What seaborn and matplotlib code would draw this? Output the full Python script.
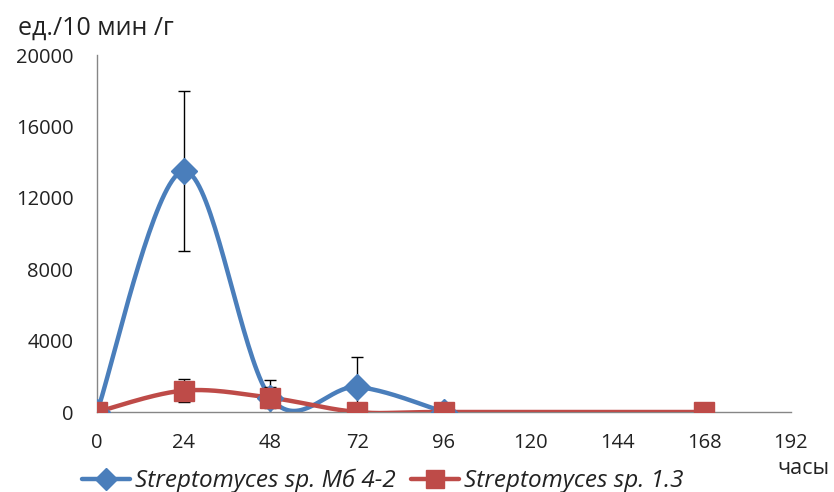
import numpy as np
import pandas as pd
import seaborn as sns
import matplotlib
matplotlib.use("Agg")
from matplotlib import pyplot as plt

hours = [0, 24, 48, 72, 96, 168]
blue_x = [0, 24, 48, 72, 96]
blue_y = [0, 13500, 800, 1400, 0]
blue_err = [0, 4500, 1000, 1700, 0]
red_x = [0, 24, 48, 72, 96, 168]
red_y = [0, 1200, 800, 0, 0, 0]
red_err = [0, 650, 600, 0, 0, 0]
xticks = [0, 24, 48, 72, 96, 120, 144, 168, 192]
yticks = [0, 4000, 8000, 12000, 16000, 20000]
blue_name = "Streptomyces sp. Мб 4-2"
red_name = "Streptomyces sp. 1.3"


def smooth(x, y, n=40):
    # catmull-rom style smoothing like the spreadsheet "smoothed line"
    x = np.asarray(x, float)
    y = np.asarray(y, float)
    px = np.concatenate([[x[0]], x, [x[-1]]])
    py = np.concatenate([[y[0]], y, [y[-1]]])
    xs, ys = [], []
    for i in range(1, len(px) - 2):
        p0, p1, p2, p3 = (np.array([px[j], py[j]]) for j in range(i - 1, i + 3))
        c1 = p1 + (p2 - p0) / 6
        c2 = p2 - (p3 - p1) / 6
        t = np.linspace(0, 1, n)[:, None]
        b = (1 - t) ** 3 * p1 + 3 * (1 - t) ** 2 * t * c1 + 3 * (1 - t) * t ** 2 * c2 + t ** 3 * p2
        xs.extend(b[:, 0])
        ys.extend(b[:, 1])
    return pd.DataFrame({"x": xs, "y": ys})


sns.set_style("white")
plt.rcParams["font.family"] = ["Open Sans", "DejaVu Sans"]
plt.rcParams["text.color"] = "#222222"

fig = plt.figure(figsize=(8.34, 4.92), dpi=100)
ax = fig.add_axes([0.1163, 0.1626, 0.832, 0.7256])

blue = "#4a7ebb"
red = "#be4b48"

sb = smooth(blue_x, blue_y)
sr = smooth(red_x, red_y)
sns.lineplot(data=sb, x="x", y="y", ax=ax, color=blue, lw=3.2, sort=False, zorder=2)
sns.lineplot(data=sr, x="x", y="y", ax=ax, color=red, lw=3.2, sort=False, zorder=3)

ax.errorbar(blue_x, blue_y, yerr=blue_err, fmt="none", ecolor="black", elinewidth=1, capsize=4.5, capthick=1, zorder=4)
ax.errorbar(red_x, red_y, yerr=red_err, fmt="none", ecolor="black", elinewidth=1, capsize=4.5, capthick=1, zorder=4)

ax.plot(blue_x, blue_y, ls="none", marker="D", ms=13, color=blue, zorder=5)
ax.plot(red_x, red_y, ls="none", marker="s", ms=15, color=red, zorder=6)

ax.set_xlim(0, 192)
ax.set_ylim(0, 20000)
ax.set_xticks(xticks)
ax.set_yticks(yticks)
ax.set_xticklabels([str(v) for v in xticks], fontsize=14.5, color="#222222")
ax.set_yticklabels([str(v) for v in yticks], fontsize=14.5, color="#222222")
ax.tick_params(axis="both", direction="out", length=5, color="#868686", width=1)
ax.tick_params(axis="x", pad=10)
ax.tick_params(axis="y", pad=12)
for s in ["top", "right"]:
    ax.spines[s].set_visible(False)
for s in ["left", "bottom"]:
    ax.spines[s].set_color("#868686")
    ax.spines[s].set_linewidth(1)
ax.set_xlabel("")
ax.set_ylabel("")

fig.text(0.021, 0.943, "ед./10 мин /г", fontsize=18, ha="left", va="center")
fig.text(0.932, 0.048, "часы", fontsize=15.5, ha="left", va="center")

h1, = ax.plot([], [], color=blue, lw=3.2, marker="D", ms=11)
h2, = ax.plot([], [], color=red, lw=3.2, marker="s", ms=13)
leg = fig.legend([h1, h2], [blue_name, red_name], loc="center left", bbox_to_anchor=(0.098, 0.022),
                 ncol=2, frameon=False, handlelength=2.0, handletextpad=0.2, columnspacing=0.6,
                 borderaxespad=0, borderpad=0, prop={"style": "italic", "size": 17.5})

fig.savefig("out.png", dpi=100)
